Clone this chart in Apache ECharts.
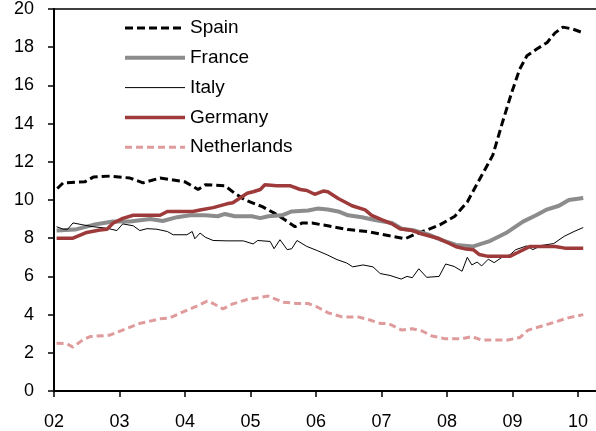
<!DOCTYPE html>
<html>
<head>
<meta charset="utf-8">
<script src="https://cdn.jsdelivr.net/npm/echarts@6/dist/echarts.min.js"></script>
<style>
  html, body { margin: 0; padding: 0; background: #fff; }
  #main { width: 596px; height: 431px; }
</style>
</head>
<body>
<div id="main"></div>
<script>
// [decimal year, value]
const spain = [
  [2002.05, 10.6], [2002.14, 10.9], [2002.47, 10.95], [2002.60, 11.2], [2002.85, 11.25],
  [2003.16, 11.15], [2003.36, 10.9], [2003.62, 11.15], [2003.82, 11.05], [2004.00, 10.95],
  [2004.20, 10.55], [2004.31, 10.8], [2004.61, 10.75], [2004.76, 10.35], [2004.92, 10.0],
  [2005.18, 9.65], [2005.37, 9.3], [2005.53, 8.95], [2005.68, 8.6], [2005.79, 8.8],
  [2005.94, 8.8], [2006.09, 8.7], [2006.18, 8.65], [2006.49, 8.45], [2006.79, 8.35],
  [2007.16, 8.1], [2007.36, 7.97], [2007.51, 8.2], [2007.71, 8.45], [2007.89, 8.7],
  [2008.12, 9.15], [2008.31, 9.9], [2008.50, 11.1], [2008.70, 12.35], [2008.85, 14.1],
  [2008.99, 15.65], [2009.11, 16.85], [2009.22, 17.55], [2009.37, 17.9], [2009.53, 18.25],
  [2009.65, 18.75], [2009.77, 19.05], [2009.92, 18.95], [2010.08, 18.75]
];

const france = [
  [2002.04, 8.4], [2002.32, 8.45], [2002.60, 8.7], [2002.90, 8.87], [2003.16, 8.87],
  [2003.47, 9.0], [2003.66, 8.9], [2003.88, 9.1], [2004.08, 9.2], [2004.31, 9.2],
  [2004.50, 9.15], [2004.61, 9.27], [2004.76, 9.15], [2005.02, 9.15], [2005.15, 9.05],
  [2005.27, 9.15], [2005.48, 9.2], [2005.63, 9.4], [2005.88, 9.45], [2006.02, 9.55],
  [2006.18, 9.5], [2006.34, 9.4], [2006.49, 9.2], [2006.70, 9.1], [2006.90, 8.95],
  [2007.16, 8.8], [2007.31, 8.5], [2007.51, 8.4], [2007.71, 8.2], [2007.92, 7.9],
  [2008.14, 7.65], [2008.40, 7.57], [2008.64, 7.83], [2008.90, 8.27], [2009.16, 8.87],
  [2009.36, 9.2], [2009.51, 9.48], [2009.71, 9.7], [2009.86, 10.0], [2010.08, 10.1]
];

const italy = [
  [2002.04, 8.6], [2002.14, 8.47], [2002.21, 8.47], [2002.29, 8.8], [2002.44, 8.7],
  [2002.60, 8.6], [2002.81, 8.52], [2002.96, 8.4], [2003.05, 8.75], [2003.21, 8.65],
  [2003.31, 8.4], [2003.42, 8.5], [2003.57, 8.47], [2003.73, 8.35], [2003.82, 8.18],
  [2004.03, 8.18], [2004.11, 8.35], [2004.15, 7.97], [2004.23, 8.27], [2004.31, 8.05],
  [2004.43, 7.88], [2004.64, 7.86], [2004.89, 7.86], [2005.04, 7.7], [2005.11, 7.88],
  [2005.30, 7.83], [2005.36, 7.45], [2005.45, 7.92], [2005.56, 7.4], [2005.63, 7.45],
  [2005.71, 7.88], [2005.86, 7.57], [2006.02, 7.35], [2006.17, 7.13], [2006.32, 6.88],
  [2006.47, 6.7], [2006.56, 6.5], [2006.72, 6.6], [2006.87, 6.5], [2006.98, 6.15],
  [2007.13, 6.05], [2007.30, 5.86], [2007.39, 6.0], [2007.47, 5.93], [2007.57, 6.4],
  [2007.69, 5.95], [2007.88, 6.0], [2007.98, 6.65], [2008.11, 6.52], [2008.23, 6.27],
  [2008.31, 7.0], [2008.38, 6.6], [2008.46, 6.75], [2008.53, 6.55], [2008.63, 6.9],
  [2008.72, 6.72], [2008.84, 7.0], [2008.96, 7.13], [2009.05, 7.4], [2009.22, 7.6],
  [2009.31, 7.4], [2009.44, 7.62], [2009.63, 7.72], [2009.79, 8.1], [2009.94, 8.35],
  [2010.08, 8.56]
];

const germany = [
  [2002.04, 8.0], [2002.29, 8.0], [2002.50, 8.3], [2002.70, 8.43], [2002.81, 8.47],
  [2002.90, 8.78], [2003.05, 9.04], [2003.21, 9.2], [2003.62, 9.2], [2003.73, 9.4],
  [2004.12, 9.4], [2004.23, 9.48], [2004.43, 9.6], [2004.64, 9.8], [2004.73, 9.86],
  [2004.95, 10.35], [2005.04, 10.43], [2005.15, 10.55], [2005.22, 10.8], [2005.40, 10.75],
  [2005.60, 10.75], [2005.76, 10.55], [2005.86, 10.5], [2005.98, 10.3], [2006.11, 10.47],
  [2006.18, 10.43], [2006.34, 10.08], [2006.55, 9.7], [2006.75, 9.48], [2006.85, 9.2],
  [2007.01, 8.96], [2007.16, 8.75], [2007.28, 8.5], [2007.47, 8.4], [2007.62, 8.22],
  [2007.86, 8.0], [2008.02, 7.75], [2008.14, 7.55], [2008.29, 7.43], [2008.40, 7.4],
  [2008.49, 7.15], [2008.63, 7.05], [2008.96, 7.05], [2009.08, 7.25], [2009.27, 7.57],
  [2009.65, 7.57], [2009.80, 7.48], [2010.08, 7.48]
];

const netherlands = [
  [2002.04, 2.5], [2002.19, 2.48], [2002.29, 2.3], [2002.45, 2.7], [2002.55, 2.85],
  [2002.85, 2.92], [2003.01, 3.14], [2003.31, 3.54], [2003.47, 3.66], [2003.62, 3.78],
  [2003.77, 3.83], [2003.97, 4.14], [2004.18, 4.44], [2004.34, 4.7], [2004.43, 4.58],
  [2004.58, 4.3], [2004.73, 4.56], [2004.95, 4.79], [2005.10, 4.87], [2005.27, 4.97],
  [2005.50, 4.65], [2005.71, 4.58], [2005.88, 4.58], [2006.02, 4.4], [2006.18, 4.1],
  [2006.40, 3.88], [2006.64, 3.88], [2006.79, 3.75], [2006.98, 3.54], [2007.10, 3.54],
  [2007.31, 3.19], [2007.47, 3.26], [2007.62, 3.14], [2007.77, 2.88], [2007.97, 2.74],
  [2008.23, 2.74], [2008.38, 2.85], [2008.53, 2.67], [2008.93, 2.67], [2009.11, 2.8],
  [2009.24, 3.19], [2009.45, 3.4], [2009.65, 3.61], [2009.85, 3.83], [2010.08, 4.0]
];

const names = ['Spain', 'France', 'Italy', 'Germany', 'Netherlands'];
const xMin = 2002, xMax = 2010.275;

const font = 'Liberation Sans, Arial, sans-serif';

function line(name, data, color, width, type) {
  return {
    name: name,
    type: 'line',
    data: data,
    showSymbol: false,
    symbol: 'none',
    itemStyle: { color: color },
    lineStyle: { color: color, width: width, type: type }
  };
}

let option = {
  backgroundColor: '#fff',
  animation: false,
  grid: { left: 54, right: 0, top: 7.5, bottom: 38 },
  legend: {
    orient: 'vertical',
    left: 123,
    top: 18,
    padding: 0,
    itemWidth: 60,
    itemHeight: 20,
    itemGap: 9.8,
    data: names,
    itemStyle: { opacity: 0 },
    lineStyle: { width: 'inherit' },
    textStyle: { fontFamily: font, fontSize: 19, color: '#000', lineHeight: 20 }
  },
  xAxis: [{
    type: 'value',
    min: xMin,
    max: xMax,
    interval: 1,
    axisLine: { lineStyle: { color: '#000', width: 2 } },
    axisTick: { inside: false, length: 6, lineStyle: { color: '#000', width: 1.5 } },
    splitLine: { show: false },
    axisLabel: {
      margin: 22,
      fontFamily: font, fontSize: 18, color: '#000',
      showMaxLabel: false,
      formatter: function (v) {
        return Number.isInteger(v) ? String(v).slice(2) : '';
      }
    }
  }, {
    type: 'value',
    position: 'top',
    min: xMin,
    max: xMax,
    axisLine: { onZero: false, lineStyle: { color: '#000', width: 1.5 } },
    axisTick: { show: false },
    axisLabel: { show: false },
    splitLine: { show: false }
  }],
  yAxis: {
    type: 'value',
    min: 0,
    max: 20,
    interval: 2,
    axisLine: { show: true, lineStyle: { color: '#000', width: 2 } },
    axisTick: { show: true, inside: false, length: 6, lineStyle: { color: '#000', width: 1.5 } },
    splitLine: { show: false },
    axisLabel: { margin: 20, fontFamily: font, fontSize: 18, color: '#000' }
  },
  series: [
    line('Spain', spain, '#000000', 3, [8, 4]),
    line('France', france, '#8c8c8c', 4, 'solid'),
    line('Italy', italy, '#000000', 1, 'solid'),
    line('Germany', germany, '#9e3a3a', 3.5, 'solid'),
    line('Netherlands', netherlands, '#df9b9b', 3, [7, 4])
  ]
};

let myChart = echarts.init(document.getElementById('main'));
myChart.setOption(option);
</script>
</body>
</html>
